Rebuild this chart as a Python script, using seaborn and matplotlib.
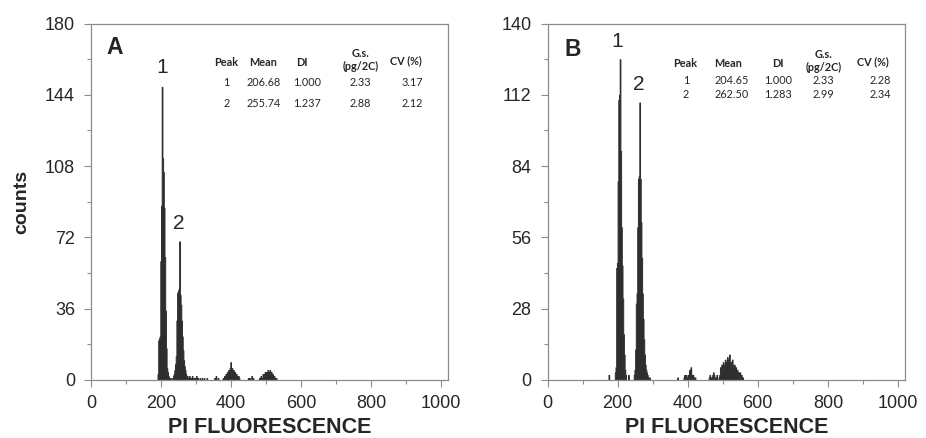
from matplotlib import pyplot as plt
from matplotlib.ticker import MultipleLocator
import pandas as pd
import seaborn as sns

sns.set_style("ticks")
plt.rcParams['font.family'] = ['Liberation Sans', 'DejaVu Sans']

# histogram channels (left edge of 2-unit bins) and counts, panel A
a_bins = [190, 192, 194, 196, 198, 200, 202, 204, 206, 208, 210, 212, 214, 216, 218, 220, 222, 224, 226,
          232, 234, 236, 238, 240, 242, 244, 246, 248, 250, 252, 254, 256, 258, 260, 262, 264, 266,
          268, 270, 272, 274, 276,
          280, 284, 288, 292, 296, 300, 304, 310, 316, 322, 330, 352, 356, 362,
          376, 380, 384, 386, 388, 390, 392, 394, 396, 398, 400, 402, 404, 406, 408, 410, 412, 414,
          416, 418, 420, 422,
          448, 452, 458, 462,
          480, 484, 488, 490, 492, 494, 496, 498, 500, 502, 504, 506, 508, 510, 512, 514, 516, 518,
          520, 522, 524, 528]
a_counts = [3, 20, 21, 22, 60, 88, 148, 112, 105, 87, 62, 35, 16, 6, 4, 2, 1, 1, 1,
            1, 2, 3, 5, 8, 12, 30, 44, 45, 46, 70, 43, 38, 30, 22, 15, 10, 7,
            5, 3, 2, 2, 1,
            2, 1, 2, 1, 1, 2, 1, 1, 1, 1, 1, 1, 2, 1,
            1, 2, 3, 2, 4, 3, 5, 4, 6, 9, 5, 6, 4, 5, 3, 4, 2, 3,
            2, 1, 2, 1,
            1, 1, 2, 1,
            1, 2, 1, 3, 2, 3, 4, 2, 4, 3, 5, 3, 4, 5, 3, 4, 2, 3,
            1, 2, 1, 1]

# panel B
b_bins = [174,
          192, 194, 196, 198, 200, 202, 204, 206, 208, 210, 212, 214, 216, 218, 220, 222,
          230,
          246, 248, 250, 252, 254, 256, 258, 260, 262, 264, 266, 268, 270, 272, 274, 276, 278,
          280, 282, 284, 286, 288, 290,
          370, 388, 390, 392, 394, 396, 398, 400, 402, 404, 406, 408, 410, 412, 414, 418, 420,
          460, 462, 466, 470, 472, 474, 478, 482,
          488, 490, 492, 494, 496, 498, 500, 502, 504, 506, 508, 510, 512, 514, 516, 518, 520,
          522, 524, 526, 528, 530, 532, 534, 536, 538, 540, 542, 544, 546, 548, 550, 552, 554, 556]
b_counts = [2,
            3, 5, 44, 46, 78, 110, 112, 126, 90, 60, 45, 32, 18, 10, 4, 2,
            2,
            2, 4, 12, 30, 34, 60, 79, 80, 109, 79, 62, 48, 34, 24, 16, 10, 6,
            4, 3, 2, 1, 1, 1,
            1, 1, 2, 1, 2, 1, 1, 2, 1, 4, 2, 5, 2, 1, 2, 1, 1,
            1, 2, 1, 2, 3, 2, 1, 2,
            1, 2, 5, 4, 6, 3, 7, 5, 6, 8, 6, 7, 9, 7, 8, 10, 6,
            7, 5, 8, 6, 4, 6, 3, 5, 3, 4, 2, 3, 2, 3, 1, 2, 1, 1]

table_header = ["Peak", "Mean", "DI", "G.s.\n(pg/2C)", "CV (%)"]
a_rows = [["1", "206.68", "1.000", "2.33", "3.17"],
          ["2", "255.74", "1.237", "2.88", "2.12"]]
b_rows = [["1", "204.65", "1.000", "2.33", "2.28"],
          ["2", "262.50", "1.283", "2.99", "2.34"]]

W, H = 926, 438
fig = plt.figure(figsize=(9.26, 4.38), dpi=100)
ax_a = fig.add_axes([91 / W, 1 - 380 / H, 357 / W, 356.5 / H])
ax_b = fig.add_axes([547.5 / W, 1 - 380 / H, 357.5 / W, 356.5 / H])

for ax, bins, counts, ymax, ystep in [(ax_a, a_bins, a_counts, 180, 36), (ax_b, b_bins, b_counts, 140, 28)]:
    df = pd.DataFrame({"channel": bins, "count": counts})
    sns.histplot(data=df, x="channel", weights="count", binwidth=2, binrange=(0, 1024),
                 element="step", fill=True, color="#2e2e2e", alpha=1, linewidth=0.7, ax=ax)
    ax.set_xlim(0, 1020)
    ax.set_ylim(0, ymax)
    ax.xaxis.set_major_locator(MultipleLocator(200))
    ax.xaxis.set_minor_locator(MultipleLocator(100))
    ax.yaxis.set_major_locator(MultipleLocator(ystep))
    ax.yaxis.set_minor_locator(MultipleLocator(ystep / 2))
    ax.tick_params(which="major", length=5, width=0.8, color="#8c8c8c", labelsize=13, pad=5.5)
    ax.tick_params(which="minor", length=3, width=0.8, color="#8c8c8c")
    ax.tick_params(axis="y", which="major", pad=6.5)
    for s in ax.spines.values():
        s.set_color("#8c8c8c")
        s.set_linewidth(0.9)
    ax.set_xlabel("PI FLUORESCENCE", fontsize=15.5, fontweight="bold", labelpad=4)
    ax.set_ylabel("")

ax_a.set_ylabel("counts", fontsize=14, fontweight="bold", labelpad=10.5)

# panel letters and peak labels
fig.text(115 / W, 1 - 47 / H, "A", fontsize=16.5, fontweight="bold", ha="center", va="center")
fig.text(573 / W, 1 - 49 / H, "B", fontsize=16.5, fontweight="bold", ha="center", va="center")
ax_a.text(203, 158, "1", fontsize=15, ha="center", va="center")
ax_a.text(251, 79, "2", fontsize=15, ha="center", va="center")
ax_b.text(199, 133, "1", fontsize=15, ha="center", va="center")
ax_b.text(261, 116, "2", fontsize=15, ha="center", va="center")

# peak tables
tfont = ['Lato', 'DejaVu Sans']
for rows, col_head, col_val, head_y, row_y in [
        (a_rows, [225.7, 263.3, 302.3, 360.7, 405.7], [226.7, 264, 306.7, 360, 412], 62.3, [82.7, 103.5]),
        (b_rows, [685, 728.3, 778.3, 823.3, 873.3], [686, 731.7, 778.3, 823.3, 880], 63.3, [80.5, 94.2])]:
    for i, h in enumerate(table_header):
        y = head_y - 2 if "\n" in h else head_y
        if h.startswith("CV"):
            y = head_y - 1.5
        fig.text(col_head[i] / W, 1 - y / H, h, fontsize=7.8, fontweight="bold", family=tfont,
                 ha="center", va="center", linespacing=1.2)
    for r, row in enumerate(rows):
        for i, v in enumerate(row):
            fig.text(col_val[i] / W, 1 - row_y[r] / H, v, fontsize=7.8, family=tfont,
                     ha="center", va="center")

fig.savefig("out.png", dpi=100)
